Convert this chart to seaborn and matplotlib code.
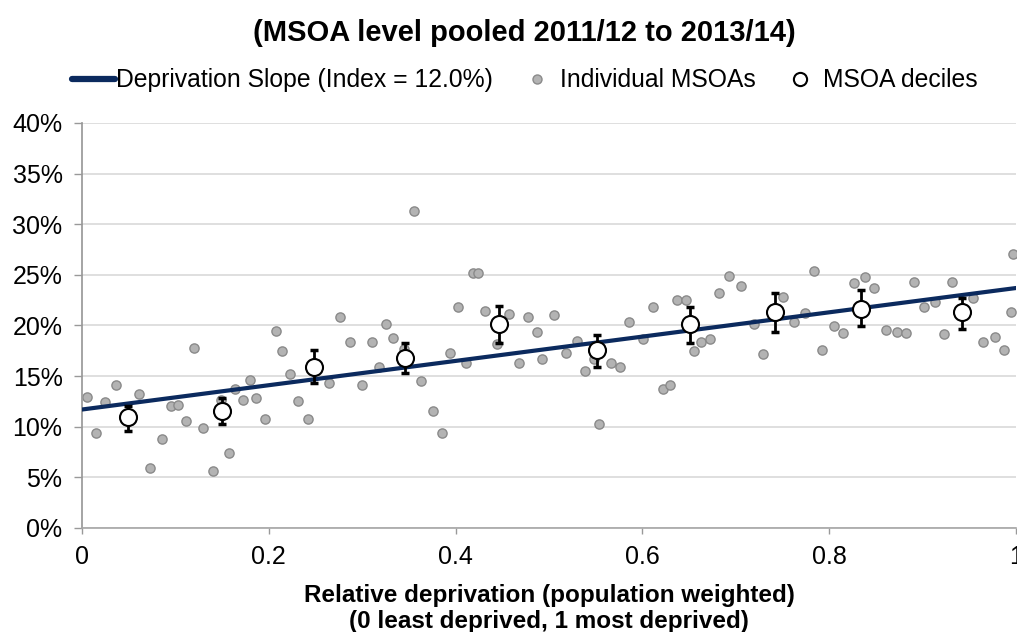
import numpy as np
import pandas as pd
import matplotlib
matplotlib.use("Agg")
import matplotlib.pyplot as plt
import seaborn as sns
from matplotlib.lines import Line2D
from matplotlib.ticker import FuncFormatter

# ---------------- data ----------------
msoa_x = [0.005, 0.015, 0.025, 0.036, 0.061, 0.073, 0.086, 0.095, 0.103, 0.111,
          0.120, 0.130, 0.140, 0.149, 0.157, 0.164, 0.172, 0.180, 0.186, 0.196,
          0.208, 0.214, 0.223, 0.231, 0.242, 0.264, 0.276, 0.287, 0.300, 0.310,
          0.318, 0.325, 0.333, 0.345, 0.355, 0.363, 0.376, 0.386, 0.394, 0.403,
          0.411, 0.419, 0.424, 0.432, 0.444, 0.457, 0.468, 0.478, 0.487, 0.492,
          0.505, 0.518, 0.530, 0.539, 0.548, 0.554, 0.566, 0.576, 0.586, 0.601,
          0.611, 0.622, 0.630, 0.637, 0.647, 0.655, 0.663, 0.672, 0.682, 0.693,
          0.706, 0.719, 0.729, 0.751, 0.762, 0.774, 0.784, 0.792, 0.805, 0.815,
          0.827, 0.838, 0.848, 0.861, 0.873, 0.882, 0.891, 0.901, 0.913, 0.923,
          0.932, 0.954, 0.965, 0.977, 0.987, 0.995, 0.997]
msoa_y = [12.9, 9.4, 12.45, 14.1, 13.2, 5.9, 8.8, 12.0, 12.15, 10.6,
          17.8, 9.9, 5.6, 12.6, 7.4, 13.7, 12.65, 14.6, 12.8, 10.8,
          19.5, 17.5, 15.2, 12.5, 10.8, 14.3, 20.85, 18.4, 14.1, 18.4,
          15.9, 20.1, 18.8, 17.7, 31.3, 14.5, 11.55, 9.4, 17.3, 21.8,
          16.3, 25.2, 25.2, 21.4, 18.15, 21.15, 16.3, 20.85, 19.4, 16.7,
          21.0, 17.3, 18.5, 15.5, 16.7, 10.3, 16.3, 15.9, 20.35, 18.7,
          21.8, 13.7, 14.1, 22.5, 22.5, 17.5, 18.4, 18.7, 23.25, 24.9,
          23.9, 20.1, 17.2, 22.8, 20.35, 21.25, 25.4, 17.6, 19.9, 19.3,
          24.2, 24.8, 23.75, 19.6, 19.4, 19.3, 24.3, 21.8, 22.3, 19.2,
          24.3, 22.7, 18.4, 18.85, 17.6, 21.3, 27.1]

decile_x = [0.049, 0.150, 0.248, 0.346, 0.447, 0.551, 0.651, 0.742, 0.834, 0.942]
decile_y = [11.0, 11.6, 15.9, 16.8, 20.1, 17.55, 20.1, 21.3, 21.6, 21.3]
decile_lo = [9.6, 10.25, 14.35, 15.3, 18.3, 15.9, 18.3, 19.4, 19.9, 19.7]
decile_hi = [12.0, 12.8, 17.6, 18.3, 21.9, 19.1, 21.8, 23.2, 23.5, 22.7]

slope_x = [0.0, 1.0]
slope_y = [11.7, 23.7]

y_ticks = [0, 5, 10, 15, 20, 25, 30, 35, 40]
x_ticks = [0, 0.2, 0.4, 0.6, 0.8, 1.0]
x_tick_labels = ["0", "0.2", "0.4", "0.6", "0.8", "1"]

title_text = "(MSOA level pooled 2011/12 to 2013/14)"
legend_labels = ["Deprivation Slope (Index = 12.0%)", "Individual MSOAs", "MSOA deciles"]
xlabel_text = "Relative deprivation (population weighted)\n(0 least deprived, 1 most deprived)"

# ---------------- plot ----------------
sns.set_theme(style="white")
plt.rcParams["font.family"] = ["Liberation Sans", "DejaVu Sans"]
plt.rcParams["text.color"] = "black"
plt.rcParams["axes.labelcolor"] = "black"

fig = plt.figure(figsize=(10.17, 6.32), dpi=100)
ax = fig.add_axes([0.0806, 0.1646, 0.9184, 0.6408])

pts = pd.DataFrame({"x": msoa_x, "y": msoa_y})
sns.scatterplot(data=pts, x="x", y="y", ax=ax, s=44, color="#b3b3b3",
                edgecolor="#8a8a8a", linewidth=1.0, zorder=2, legend=False)

line_df = pd.DataFrame({"x": slope_x, "y": slope_y})
sns.lineplot(data=line_df, x="x", y="y", ax=ax, color="#0b2a5e", linewidth=3.0,
             zorder=3, legend=False)

dy = np.array(decile_y)
yerr = np.vstack([dy - np.array(decile_lo), np.array(decile_hi) - dy])
ax.errorbar(decile_x, decile_y, yerr=yerr, fmt="none", ecolor="black",
            elinewidth=2, capsize=3, capthick=2.5, zorder=4)
dec = pd.DataFrame({"x": decile_x, "y": decile_y})
sns.scatterplot(data=dec, x="x", y="y", ax=ax, s=150, color="white",
                edgecolor="black", linewidth=1.5, zorder=5, legend=False)

ax.set_xlim(0, 1)
ax.set_ylim(0, 40)
ax.set_yticks(y_ticks)
ax.yaxis.set_major_formatter(FuncFormatter(lambda v, p: f"{v:.0f}%"))
ax.set_xticks(x_ticks)
ax.set_xticklabels(x_tick_labels)
ax.tick_params(axis="both", labelsize=18, labelcolor="black")
ax.tick_params(axis="y", length=6, width=1, color="#999999", direction="out",
               left=True, pad=8)
ax.tick_params(axis="x", length=4, width=1, color="#999999", direction="out",
               bottom=True, pad=8)
ax.grid(axis="y", color="#d9d9d9", linewidth=1.2)
ax.set_axisbelow(True)
for s in ["top", "right"]:
    ax.spines[s].set_visible(False)
ax.spines["left"].set_color("#999999")
ax.spines["bottom"].set_color("#a6a6a6")
ax.spines["bottom"].set_linewidth(1.2)

ax.set_ylabel("")
ax.set_xlabel(xlabel_text, fontsize=17.5, fontweight="bold", labelpad=11,
              linespacing=1.18, color="black")

fig.text(0.516, 0.948, title_text, ha="center", va="center",
         fontsize=21, fontweight="bold", color="black")

handles = [
    Line2D([0], [0], color="#0b2a5e", linewidth=4.5, solid_capstyle="round"),
    Line2D([0], [0], marker="o", linestyle="none", markersize=6.5,
           markerfacecolor="#b3b3b3", markeredgecolor="#8a8a8a"),
    Line2D([0], [0], marker="o", linestyle="none", markersize=9.5,
           markerfacecolor="white", markeredgecolor="black", markeredgewidth=1.5),
]
leg = fig.legend(handles, legend_labels, loc="center", bbox_to_anchor=(0.516, 0.873),
                 ncol=3, frameon=False, fontsize=17.8, handlelength=1.72,
                 handletextpad=0.05, columnspacing=0.95)
for t in leg.get_texts():
    t.set_color("black")

fig.savefig("out.png", dpi=100)
